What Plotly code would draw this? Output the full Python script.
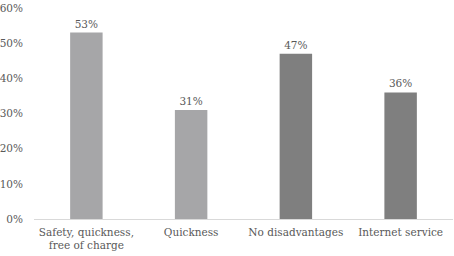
import plotly.graph_objects as go

categories = ["Safety, quickness,<br>free of charge", "Quickness", "No disadvantages", "Internet service"]
values = [53, 31, 47, 36]
value_labels = ["53%", "31%", "47%", "36%"]
bar_colors = ["#a6a6a8", "#a6a6a8", "#7f7f7f", "#7f7f7f"]
tick_vals = [0, 10, 20, 30, 40, 50, 60]
tick_text = ["0%", "10%", "20%", "30%", "40%", "50%", "60%"]

font_family = "Georgia, 'DejaVu Serif', 'Liberation Serif', serif"
fs = 10.5

fig = go.Figure(go.Bar(
    x=categories, y=values,
    marker=dict(color=bar_colors, line=dict(width=0)),
    text=value_labels, textposition="outside",
    textfont=dict(family=font_family, size=fs, color="#595959"),
    cliponaxis=False,
))

fig.update_layout(
    width=454, height=256,
    margin=dict(l=34, r=1, t=8, b=37),
    paper_bgcolor="white", plot_bgcolor="white",
    bargap=0.69,
    showlegend=False,
    font=dict(family=font_family, size=fs, color="#595959"),
    xaxis=dict(showgrid=False, showline=True, linecolor="#d9d9d9", linewidth=1,
               ticks="", automargin=False, ticklabelstandoff=3,
               tickfont=dict(size=fs, color="#595959")),
    yaxis=dict(range=[0, 60], tickvals=tick_vals, ticktext=tick_text,
               showgrid=False, zeroline=False, showline=False, ticks="",
               automargin=False, ticklabelstandoff=10,
               tickfont=dict(size=fs, color="#595959")),
)

fig.write_html("out.html", config={"displayModeBar": False},
               post_script="document.body.style.margin='0';")
